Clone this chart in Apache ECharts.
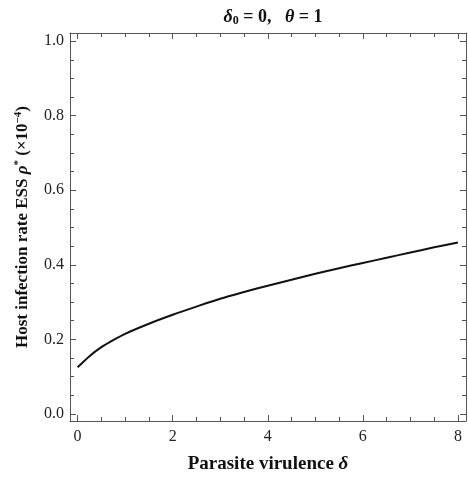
<!DOCTYPE html>
<html style="height: 100%">
<head>
  <meta charset="UTF-8">
  <title>ESS host infection rate</title>
  <script src="https://cdn.jsdelivr.net/npm/echarts@6/dist/echarts.min.js"></script>
  <style>
    body { margin: 0; height: 100%; background: #fff; }
    #main { width: 468px; height: 479px; }
  </style>
</head>
<body>
  <div id="main"></div>
  <script>
    // virulence delta vs ESS rho* (x1e-4)
    const virulence = [0, 0.25, 0.5, 0.75, 1, 1.5, 2, 2.5, 3, 3.5, 4, 4.5, 5, 5.5, 6, 6.5, 7, 7.5, 8];
    const essRate = [0.125, 0.155, 0.179, 0.198, 0.215, 0.242, 0.266, 0.288, 0.309, 0.327, 0.344, 0.360, 0.376, 0.391, 0.405, 0.419, 0.433, 0.447, 0.460];

    const xMajor = [0, 2, 4, 6, 8];
    const xMinor = [0.5, 1, 1.5, 2.5, 3, 3.5, 4.5, 5, 5.5, 6.5, 7, 7.5];
    const yMajor = [0, 0.2, 0.4, 0.6, 0.8, 1.0];
    const yMinor = [0.05, 0.1, 0.15, 0.25, 0.3, 0.35, 0.45, 0.5, 0.55, 0.65, 0.7, 0.75, 0.85, 0.9, 0.95];

    const serif = '"Liberation Serif", "DejaVu Serif", serif';
    const frame = '#555';
    const xMin = -0.16, xMax = 8.17;
    const yMin = -0.019, yMax = 1.022;

    function xAxisDef(pos, ticks, len, showLabel, showLine) {
      return {
        type: 'value', position: pos, min: xMin, max: xMax,
        axisLine: { show: showLine, onZero: false, lineStyle: { color: frame, width: 1 } },
        axisTick: { inside: true, length: len, customValues: ticks, lineStyle: { color: frame } },
        axisLabel: { show: showLabel, customValues: ticks, margin: 8,
          fontFamily: serif, fontSize: 16, color: '#222' },
        splitLine: { show: false }
      };
    }
    function yAxisDef(pos, ticks, len, showLabel, showLine) {
      return {
        type: 'value', position: pos, min: yMin, max: yMax,
        axisLine: { show: showLine, onZero: false, lineStyle: { color: frame, width: 1 } },
        axisTick: { inside: true, length: len, customValues: ticks, lineStyle: { color: frame } },
        axisLabel: { show: showLabel, customValues: ticks, margin: 6,
          fontFamily: serif, fontSize: 16, color: '#222',
          formatter: v => v.toFixed(1) },
        splitLine: { show: false }
      };
    }

    const xBottom = xAxisDef('bottom', xMajor, 6, true, true);
    xBottom.name = '{b|Parasite virulence }{i|δ}';
    xBottom.nameLocation = 'middle';
    xBottom.nameGap = 34;
    xBottom.nameTextStyle = {
      rich: {
        b: { fontFamily: serif, fontSize: 19, fontWeight: 'bold', color: '#111' },
        i: { fontFamily: serif, fontSize: 19, fontWeight: 'bold', fontStyle: 'italic', color: '#111' }
      }
    };

    const yLeft = yAxisDef('left', yMajor, 6, true, true);
    yLeft.name = '{b|Host infection rate ESS }{i|ρ}{s|*}{b| (×10}{s|−4}{b|)}';
    yLeft.nameLocation = 'middle';
    yLeft.nameGap = 38;
    yLeft.nameTextStyle = {
      rich: {
        b: { fontFamily: serif, fontSize: 17, fontWeight: 'bold', color: '#111' },
        i: { fontFamily: serif, fontSize: 17, fontWeight: 'bold', fontStyle: 'italic', color: '#111' },
        s: { fontFamily: serif, fontSize: 11, fontWeight: 'bold', color: '#111', verticalAlign: 'top', padding: [0, 0, 8, 0] }
      }
    };

    const myChart = echarts.init(document.getElementById('main'));
    myChart.setOption({
      animation: false,
      backgroundColor: '#fff',
      title: {
        text: '{i|δ}{sub|0}{b| = 0,   }{i|θ}{b| = 1}',
        left: 268, top: 3, textAlign: 'center',
        textStyle: {
          rich: {
            b: { fontFamily: serif, fontSize: 18, fontWeight: 'bold', color: '#111' },
            i: { fontFamily: serif, fontSize: 18, fontWeight: 'bold', fontStyle: 'italic', color: '#111' },
            sub: { fontFamily: serif, fontSize: 12, fontWeight: 'bold', color: '#111', verticalAlign: 'bottom', padding: [7, 0, 0, 0] }
          }
        }
      },
      grid: { left: 70, right: 2, top: 33, bottom: 49 },
      xAxis: [
        xBottom,
        xAxisDef('bottom', xMinor, 4, false, false),
        xAxisDef('top', xMajor, 6, false, true),
        xAxisDef('top', xMinor, 4, false, false)
      ],
      yAxis: [
        yLeft,
        yAxisDef('left', yMinor, 4, false, false),
        yAxisDef('right', yMajor, 6, false, true),
        yAxisDef('right', yMinor, 4, false, false)
      ],
      series: [{
        type: 'line',
        data: virulence.map((x, i) => [x, essRate[i]]),
        smooth: 0.3,
        showSymbol: false,
        lineStyle: { color: '#111', width: 2 },
        xAxisIndex: 0,
        yAxisIndex: 0
      }]
    });
  </script>
</body>
</html>
